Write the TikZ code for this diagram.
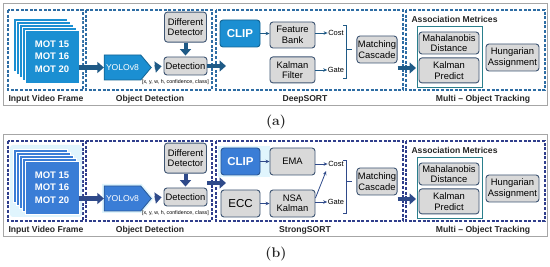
\documentclass[tikz,border=0pt]{standalone}
\usepackage{fontspec}
\setsansfont{Liberation Sans}
\usetikzlibrary{arrows.meta, positioning, shapes.symbols}

\definecolor{bluea}{HTML}{1B8FD2}
\definecolor{blueb}{HTML}{3A7DD6}
\definecolor{dasha}{HTML}{2E6DA4}
\definecolor{dashb}{HTML}{2F3E8C}
\definecolor{arrowa}{HTML}{1F5A86}
\definecolor{arrowb}{HTML}{2F4A8A}
\definecolor{boxline}{HTML}{3E5573}
\definecolor{tealline}{HTML}{2A7F8C}

\begin{document}
\begin{tikzpicture}[x=1pt, y=-1pt, font=\sffamily,
    panel/.style={draw=black!35, fill=white, line width=0.9pt},
    section/.style={draw=#1, dash pattern=on 3pt off 1.6pt, line width=1.1pt},
    graybox/.style={rectangle, rounded corners=3pt, draw=boxline, fill=black!15, line width=0.9pt, align=center, inner sep=1pt, font=\sffamily\fontsize{9.4}{10.5}\selectfont},
    bluebox/.style={rectangle, rounded corners=3pt, draw=#1!70!black, fill=#1, text=white, line width=0.9pt, font=\sffamily\bfseries\fontsize{11.5}{13}\selectfont},
    blockarrow/.style={draw=#1, line width=4.5pt, -{Triangle[length=6.5pt, width=11pt]}},
    thinarrow/.style={draw=#1, line width=0.8pt, -{Stealth[length=4pt, width=3.5pt]}},
    bracket/.style={draw=#1, line width=0.9pt},
    title/.style={font=\sffamily\bfseries\fontsize{8.6}{10}\selectfont, text=black!85},
    tag/.style={font=\sffamily\fontsize{7.5}{9}\selectfont, inner sep=0.5pt},
    caption/.style={font=\rmfamily\bfseries\fontsize{14}{16}\selectfont, text=black!85},
]
\useasboundingbox (0,0) rectangle (550,267);

% parts shared by both panels
\foreach \p/\dy/\fc/\dc/\ac/\gc/\sn in {a/0/bluea/dasha/arrowa/white/DeepSORT, b/131/blueb/dashb/arrowb/cyan!12/StrongSORT} {
\begin{scope}[yshift=-\dy*1pt]
  \draw[panel] (3,3) rectangle (547,105);
  \draw[section=\dc] (8,10) rectangle (83,90);
  \draw[section=\dc] (86,10) rectangle (212,90);
  \draw[section=\dc] (216,10) rectangle (403,90);
  \draw[section=\dc] (406,10) rectangle (545,90);

  \node[title, anchor=west] (inlab\p) at (5,99) {Input Video Frame};
  \node[title] (odlab\p) at (150,99) {Object Detection};
  \node[title] (sortlab\p) at (305,99) {\sn};
  \node[title] (motlab\p) at (483,99) {Multi – Object Tracking};

  % video frames
  \fill[\gc, rounded corners=3pt] (10,14) rectangle (82,86);
  \foreach \k in {4,3,2,1}
    \draw[fill=\fc, draw=white, line width=0.8pt] (25-3*\k,30-3*\k) rectangle ++(54,53);
  \node[fill=\fc, draw=white, line width=0.8pt, minimum width=54pt, minimum height=53pt, text=white, align=center,
        font=\sffamily\bfseries\fontsize{9.5}{12.5}\selectfont] (mot\p) at (52,56.5) {MOT 15\\MOT 16\\MOT 20};

  % detector
  \node[signal, signal to=east, signal pointer angle=100, fill=\fc, draw=\fc!70!black, line width=0.8pt,
        minimum width=47pt, minimum height=25pt, inner sep=1pt, text=white, font=\sffamily\fontsize{8.6}{10}\selectfont,
        preaction={draw=\gc, line width=4pt}] (yolo\p) at (122.5,67.5) {YOLOv8};
  \node[graybox, minimum width=43pt, minimum height=18pt] (det\p) at (185.5,66) {Detection};
  \node[graybox, minimum width=42pt, minimum height=30pt, above=14pt of det\p] (diff\p) {Different\\Detector};
  \node[font=\sffamily\fontsize{5.3}{6}\selectfont, inner sep=0pt, anchor=north east] (bbox\p) at (209,79.5) {[x, y, w, h, confidence, class]};

  \draw[blockarrow=\ac] (mot\p.east |- yolo\p.west) -- (yolo\p.west);
  \draw[blockarrow=\ac, shorten <=3pt, shorten >=2pt] (yolo\p.east) -- (det\p.west);
  \draw[blockarrow=\ac, line width=4pt, shorten >=1pt] (diff\p.south) -- (det\p.north);

  % association
  \node[title, anchor=west] (asslab\p) at (408,19) {Association Metrices};
  \draw[draw=tealline, line width=0.9pt] (417,26) rectangle (482,87);
  \node[graybox, minimum width=60pt, minimum height=22pt] (maha\p) at (449,43) {Mahalanobis\\Distance};
  \node[graybox, minimum width=60pt, minimum height=25pt, below=3pt of maha\p] (kp\p) {Kalman\\Predict};
  \node[graybox, minimum width=53pt, minimum height=27pt] (hung\p) at (512.5,57.5) {Hungarian\\Assignment};
\end{scope}
}

% (a) DeepSORT
\node[bluebox=bluea, minimum width=40pt, minimum height=27pt] (clipa) at (240,33.5) {CLIP};
\node[graybox, minimum width=45pt, minimum height=26pt] (fba) at (292.5,35) {Feature\\Bank};
\node[graybox, minimum width=45pt, minimum height=26pt, below=8pt of fba] (kfa) {Kalman\\Filter};
\node[tag] (costa) at (336,33) {Cost};
\node[tag] (gatea) at (336,70) {Gate};
\node[graybox, minimum width=40pt, minimum height=27pt] (mca) at (377,49.5) {Matching\\Cascade};
\coordinate (ina) at (226,66);
\coordinate (mina) at (416,68);
\coordinate (bta) at (346,25);
\coordinate (bba) at (346,78);

\draw[thinarrow=arrowa] (clipa.east) -- (clipa.east -| fba.west);
\draw[thinarrow=arrowa] (fba.east |- costa) -- (costa.west);
\draw[thinarrow=arrowa] (kfa.east |- gatea) -- (gatea.west);
\draw[bracket=arrowa] ([xshift=-3pt]bta) -- (bta) -- (bba) -- ([xshift=-3pt]bba);
\draw[bracket=arrowa] (bta |- mca.west) -- ++(6,0);
\draw[blockarrow=arrowa] (deta.east) -- (ina);
\draw[blockarrow=arrowa] (mca.east |- mina) -- (mina);

% (b) StrongSORT
\begin{scope}[yshift=-131pt]
\fill[cyan!12] (218,15) rectangle (270,46);
\node[bluebox=blueb, minimum width=39pt, minimum height=27pt, preaction={draw=cyan!12, line width=4pt}] (clipb) at (240.5,30.5) {CLIP};
\node[graybox, minimum width=45pt, minimum height=27pt] (emab) at (292.5,30.5) {EMA};
\node[graybox, minimum width=39pt, minimum height=27pt, font=\sffamily\fontsize{11.5}{13}\selectfont] (eccb) at (240.5,72.5) {ECC};
\node[graybox, minimum width=45pt, minimum height=27pt] (nsab) at (292.5,72.5) {NSA\\Kalman};
\node[tag] (costb) at (336,33) {Cost};
\node[tag] (gateb) at (336,71) {Gate};
\node[graybox, minimum width=40pt, minimum height=27pt] (mcb) at (377,50.5) {Matching\\Cascade};
\coordinate (inb) at (226,52);
\coordinate (minb) at (416,68);
\coordinate (btb) at (346,29);
\coordinate (bbb) at (346,82);

\draw[thinarrow=arrowb] (clipb.east) -- (emab.west);
\draw[thinarrow=arrowb] (eccb.east) -- (nsab.west);
\draw[thinarrow=arrowb] (emab.east |- costb) -- (costb.west);
\draw[thinarrow=arrowb] (nsab.east |- gateb) -- (gateb.west);
\draw[thinarrow=arrowb, shorten >=4pt] ([yshift=5.5pt]nsab.east) -- (costb.south west);
\draw[bracket=arrowb] ([xshift=-3pt]btb) -- (btb) -- (bbb) -- ([xshift=-3pt]bbb);
\draw[bracket=arrowb] (btb |- mcb.west) -- ++(6,0);
\draw[blockarrow=arrowb] (detb.east |- inb) -- (inb);
\draw[blockarrow=arrowb] (mcb.east |- minb) -- (minb);
\end{scope}

\node[caption] (capa) at (276,122) {(a)};
\node[caption] (capb) at (276,254) {(b)};
\end{tikzpicture}
\end{document}
